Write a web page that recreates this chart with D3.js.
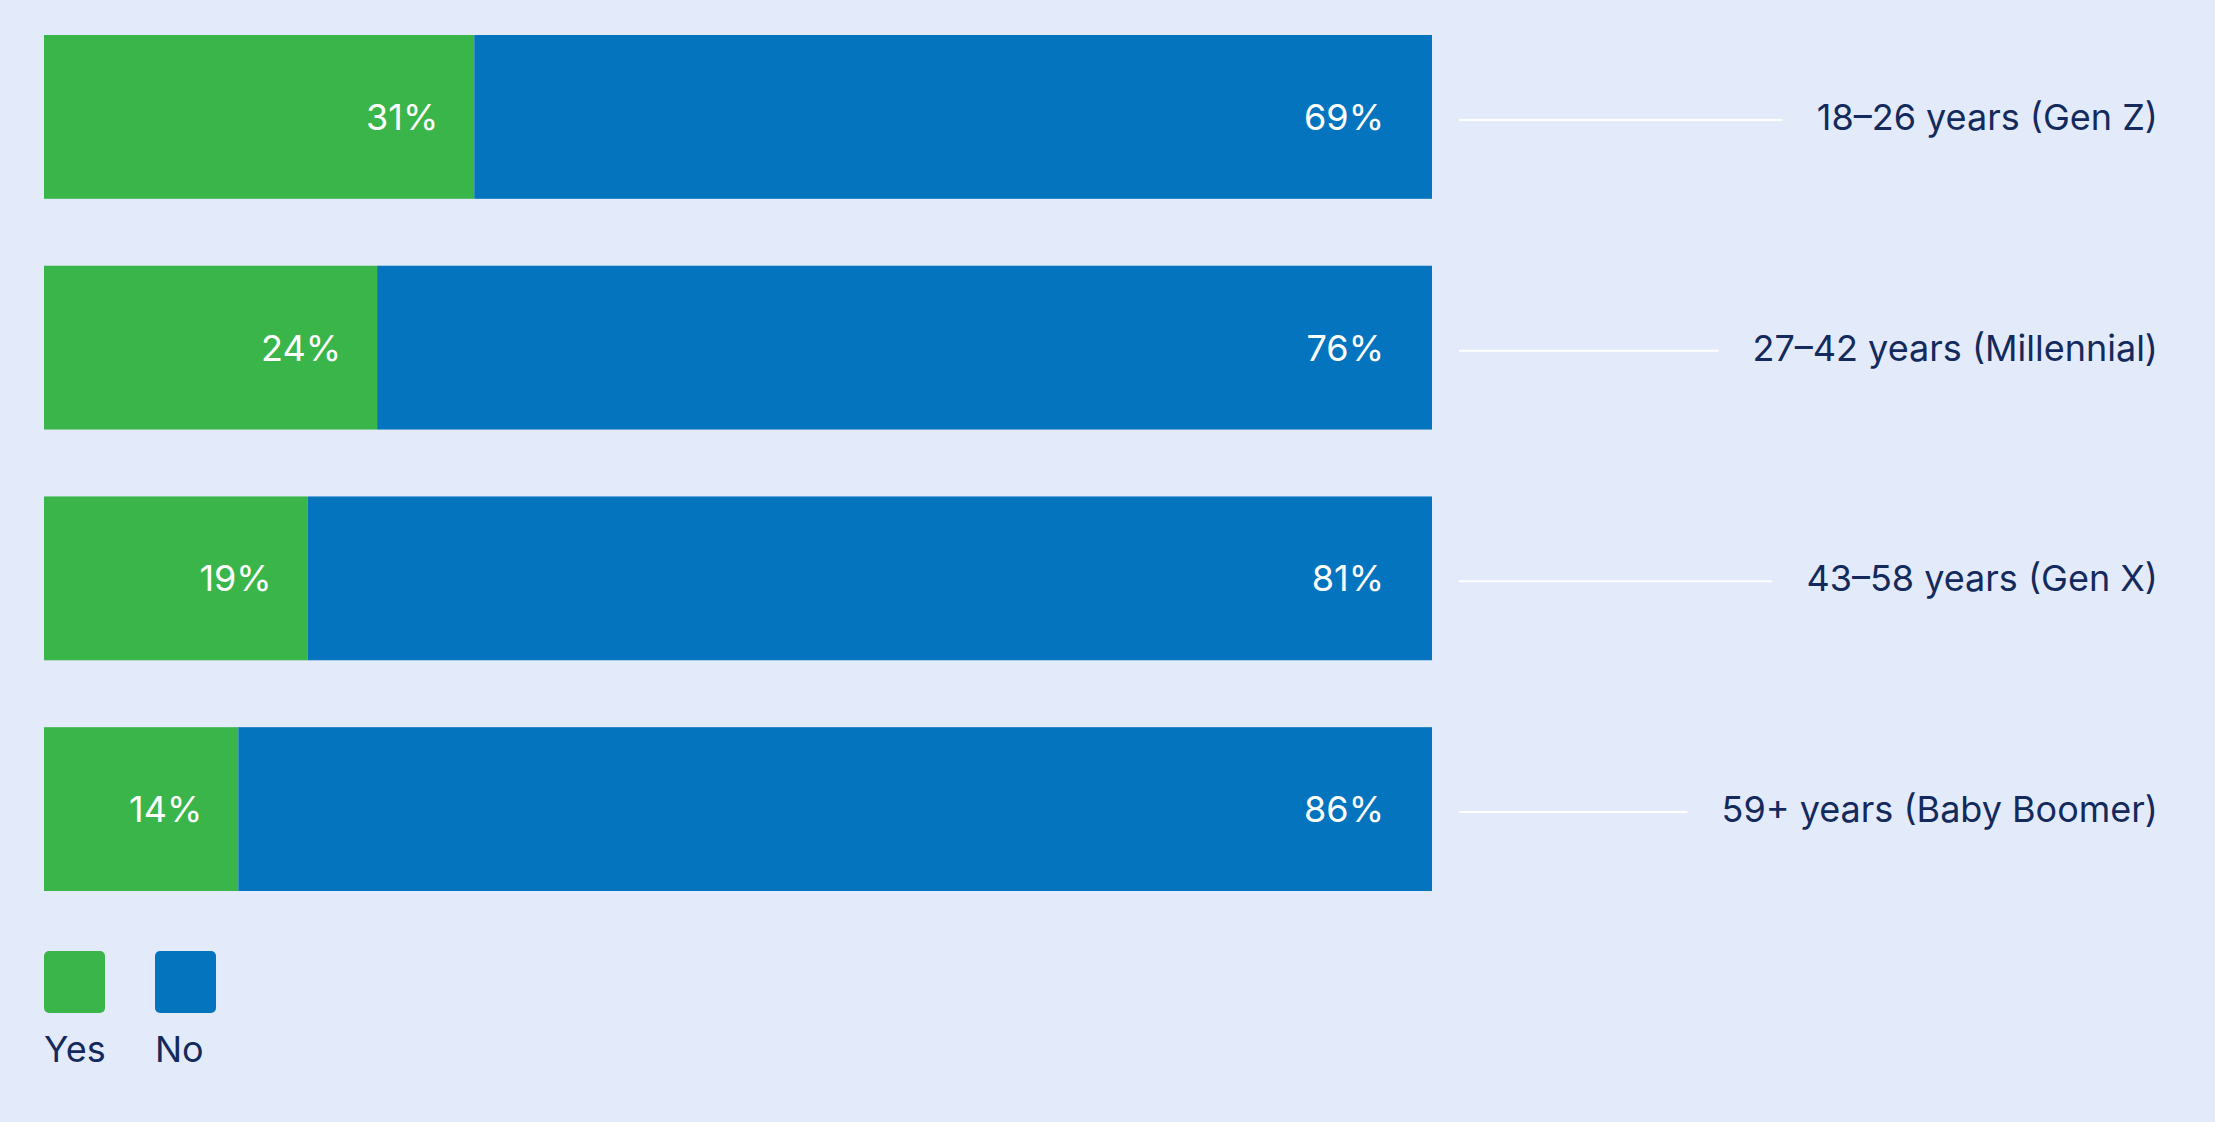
<!DOCTYPE html>
<html><head><meta charset="utf-8">
<script src="https://cdn.jsdelivr.net/npm/d3@7"></script>
<style>html,body{margin:0;padding:0;background:#E3EAF9;}svg{display:block;}</style>
</head><body>
<svg id="c" width="2215" height="1122"></svg>
<script>
const categories = ["18–26 years (Gen Z)","27–42 years (Millennial)","43–58 years (Gen X)","59+ years (Baby Boomer)"];
const yesValues = [31,24,19,14];
const noValues = [69,76,81,86];
const seriesNames = ["Yes","No"];
const colors = {Yes:"#3AB54A", No:"#0474BF"};
const textColor = "#142a5c";
const font = "Inter, 'Noto Sans', sans-serif";

const svg = d3.select("#c");
const x = d3.scaleLinear().domain([0,100]).range([44,1432]);
const y = d3.scaleBand().domain(categories).range([35,891]).paddingInner(0.29);

categories.forEach((cat,i)=>{
  const y0 = y(cat), h = y.bandwidth(), cy = y0+h/2;
  const yes = yesValues[i], no = noValues[i];
  svg.append("rect").attr("x",x(0)).attr("y",y0).attr("width",x(yes)-x(0)).attr("height",h).attr("fill",colors.Yes);
  svg.append("rect").attr("x",x(yes)).attr("y",y0).attr("width",x(yes+no)-x(yes)).attr("height",h).attr("fill",colors.No);
  svg.append("text").attr("x",x(yes)-36).attr("y",cy).attr("dy","0.36em").attr("text-anchor","end")
    .attr("fill","#fff").attr("font-family",font).attr("font-size",36).text(yes+"%");
  svg.append("text").attr("x",x(100)-48).attr("y",cy).attr("dy","0.36em").attr("text-anchor","end")
    .attr("fill","#fff").attr("font-family",font).attr("font-size",36).text(no+"%");
  const t = svg.append("text").attr("x",2158).attr("y",cy).attr("dy","0.36em").attr("text-anchor","end")
    .attr("fill",textColor).attr("font-family",font).attr("font-size",36).text(cat);
  const bb = t.node().getBBox();
  svg.append("line").attr("x1",1459).attr("x2",bb.x-34).attr("y1",cy+3).attr("y2",cy+3)
    .attr("stroke","#fff").attr("stroke-width",2);
});

seriesNames.forEach((s,i)=>{
  const lx = 44 + i*111;
  svg.append("rect").attr("x",lx).attr("y",951).attr("width",61).attr("height",62).attr("rx",5).attr("fill",colors[s]);
  svg.append("text").attr("x",lx).attr("y",1062).attr("fill",textColor).attr("font-family",font).attr("font-size",36).text(s);
});
</script>
</body></html>
